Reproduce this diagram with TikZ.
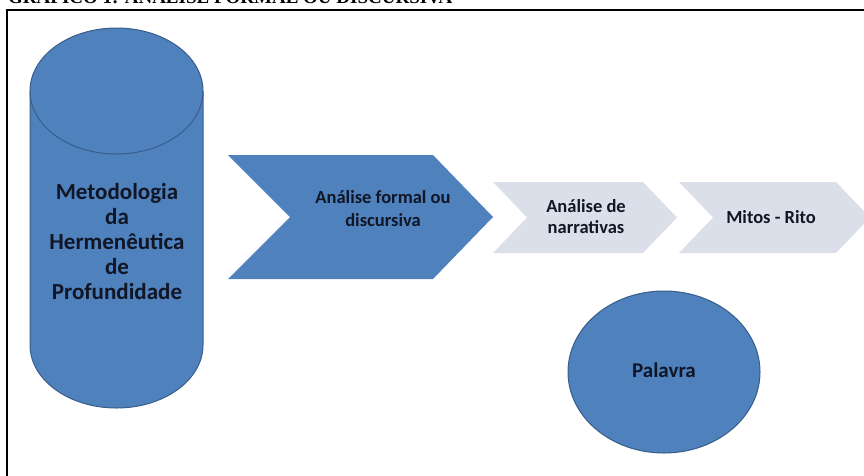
\documentclass[tikz,border=0pt]{standalone}
\usepackage{fontspec}
\setmainfont{Carlito}
\newfontfamily\titlefont{Liberation Serif}
\definecolor{officeblue}{RGB}{79,129,189}
\definecolor{officeedge}{RGB}{56,93,138}
\definecolor{palegrey}{RGB}{218,223,234}
\definecolor{inkblue}{RGB}{16,22,38}
\begin{document}
\begin{tikzpicture}[
  x=1pt, y=-1pt,
  blueshape/.style={fill=officeblue, draw=officeedge, line width=1pt},
  chevblue/.style={fill=officeblue},
  chevpale/.style={fill=palegrey},
  lbl/.style={text=inkblue, font=\bfseries, align=center, inner sep=0pt}
]
\useasboundingbox (0,0) rectangle (864,475);

\node [anchor=base west, inner sep=0pt, font=\titlefont\bfseries\fontsize{19}{19}\selectfont] (title) at (8,3.5) {GRÁFICO 1: ANÁLISE FORMAL OU DISCURSIVA};
\draw [line width=2.5pt] (7,10) rectangle (900,500);

\filldraw [blueshape] (30,91) -- (30,345) arc [start angle=180, end angle=0, x radius=86.5, y radius=63] -- (203,91);
\filldraw [blueshape] (116.5,91) ellipse [x radius=86.5, y radius=63];
\node [lbl, font=\bfseries\fontsize{23}{25}\selectfont] (hdp) at (117,242) {Metodologia\\da\\Hermenêutica\\de\\Profundidade};

\fill [chevblue] (228,155) -- (433,155) -- (493,217) -- (433,279) -- (228,279) -- (290,217) -- cycle;
\node [lbl, font=\bfseries\fontsize{18.5}{23}\selectfont] (formal) at (383,209) {Análise formal ou\\discursiva};

\fill [chevpale] (493,182) -- (643,182) -- (677,217.5) -- (643,253) -- (493,253) -- (527,217.5) -- cycle;
\node [lbl, font=\bfseries\fontsize{18.5}{21}\selectfont] (narr) at (586,217) {Análise de\\narrativas};

\fill [chevpale] (679,182) -- (836,182) -- (870,217.5) -- (836,253) -- (679,253) -- (713,217.5) -- cycle;
\node [lbl, font=\bfseries\fontsize{18.5}{21}\selectfont] (mitos) at (771,217) {Mitos - Rito};

\filldraw [blueshape] (664,372) ellipse [x radius=96, y radius=81];
\node [lbl, font=\bfseries\fontsize{21}{24}\selectfont] (palavra) at (664,370) {Palavra};
\end{tikzpicture}
\end{document}
